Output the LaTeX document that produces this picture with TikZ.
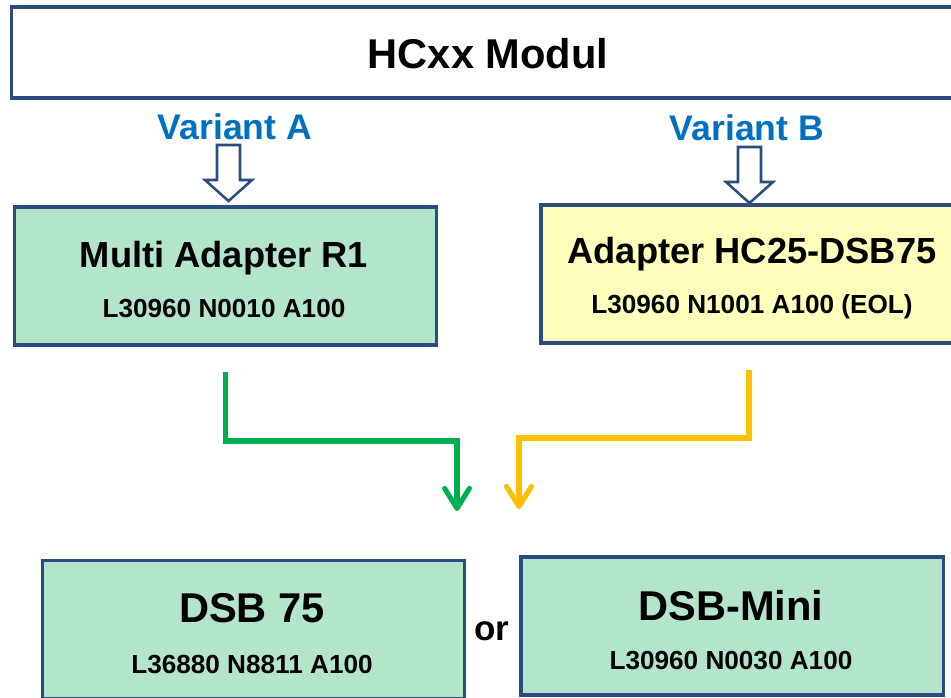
\documentclass[tikz,border=0pt]{standalone}
\usepackage{fontspec}
\setmainfont{Liberation Sans}
\usetikzlibrary{positioning,arrows.meta,calc}
\definecolor{navy}{HTML}{2A4C80}
\definecolor{boxgreen}{HTML}{B2E5C9}
\definecolor{boxyellow}{HTML}{FFFFBB}
\definecolor{varblue}{HTML}{0070C0}
\definecolor{flowgreen}{HTML}{00B050}
\definecolor{flowyellow}{HTML}{FFC000}
\tikzset{
  >={Straight Barb[round,length=5mm,width=6.2mm]},
  modbox/.style={draw=navy,line width=2.2pt,fill=white,inner sep=0pt},
  partbox/.style={draw=navy,line width=2.2pt,inner sep=0pt,
    minimum width=10.55cm,minimum height=3.45cm},
  greenbox/.style={partbox,fill=boxgreen},
  yellowbox/.style={partbox,fill=boxyellow},
  ttl/.style={anchor=base,inner sep=0pt,font=\bfseries\fontsize{25.8}{28}\selectfont},
  bigttl/.style={anchor=base,inner sep=0pt,font=\bfseries\fontsize{29.6}{32}\selectfont},
  partno/.style={anchor=base,inner sep=0pt,font=\bfseries\fontsize{18.6}{20}\selectfont},
  varlbl/.style={anchor=base,inner sep=0pt,text=varblue,
    font=\bfseries\fontsize{25.3}{27}\selectfont},
  hollow/.style={draw=navy,fill=white,line width=1.8pt,line join=miter},
  flow/.style={->,line width=3.6pt,shorten <=0.625cm},
}
\begin{document}
\begin{tikzpicture}[x=0.025cm,y=-0.025cm]
  \useasboundingbox (0,0) rectangle (951,697);
  % module on top
  \node[modbox,minimum width=23.8cm,minimum height=2.275cm] (hc) at (488,52.5) {};
  \node[bigttl] (hclbl) at (488,68) {HCxx Modul};
  % the two variants
  \node[varlbl] (varA) at (235,139) {Variant A};
  \node[varlbl] (varB) at (747,140) {Variant B};
  \coordinate (aA) at (228.5,145);
  \coordinate (aB) at (749.5,147);
  \foreach \c in {aA,aB}
    \draw[hollow] (\c) ++(-11.5,0) -- ++(23,0) -- ++(0,35) -- ++(12,0)
      -- ++(-23.5,21) -- ++(-23.5,-21) -- ++(12,0) -- cycle;
  % adapters
  \node[greenbox] (multi) at (225.5,276) {};
  \node[ttl] (multittl) at (224,267) {Multi Adapter R1};
  \node[partno] (multino) at (224,317) {L30960 N0010 A100};
  \node[yellowbox] (adapt) at (752,274) {};
  \node[ttl] (adaptttl) at (752,263) {Adapter HC25-DSB75};
  \node[partno] (adaptno) at (752,313) {L30960 N1001 A100 (EOL)};
  % targets
  \node[greenbox,minimum width=10.525cm] (dsb) at (253.5,629.5) {};
  \node[bigttl] (dsbttl) at (252,622) {DSB 75};
  \node[partno] (dsbno) at (252,673) {L36880 N8811 A100};
  \node[greenbox] (mini) at (732,626) {};
  \node[bigttl] (minittl) at (731,620) {DSB-Mini};
  \node[partno] (minino) at (731,669) {L30960 N0030 A100};
  \node[anchor=base,inner sep=0pt,font=\bfseries\fontsize{24.9}{27}\selectfont]
    (or) at (492,640) {or};
  % connectors
  \coordinate (gknee) at (457,441);
  \coordinate (gend) at (457,511);
  \coordinate (yknee) at (519,438);
  \coordinate (yend) at (519,509);
  \draw[flow,flowgreen] (multi.south) |- (gknee) -- (gend);
  \draw[flow,flowyellow] ([xshift=-0.075cm]adapt.south) |- (yknee) -- (yend);
\end{tikzpicture}
\end{document}
